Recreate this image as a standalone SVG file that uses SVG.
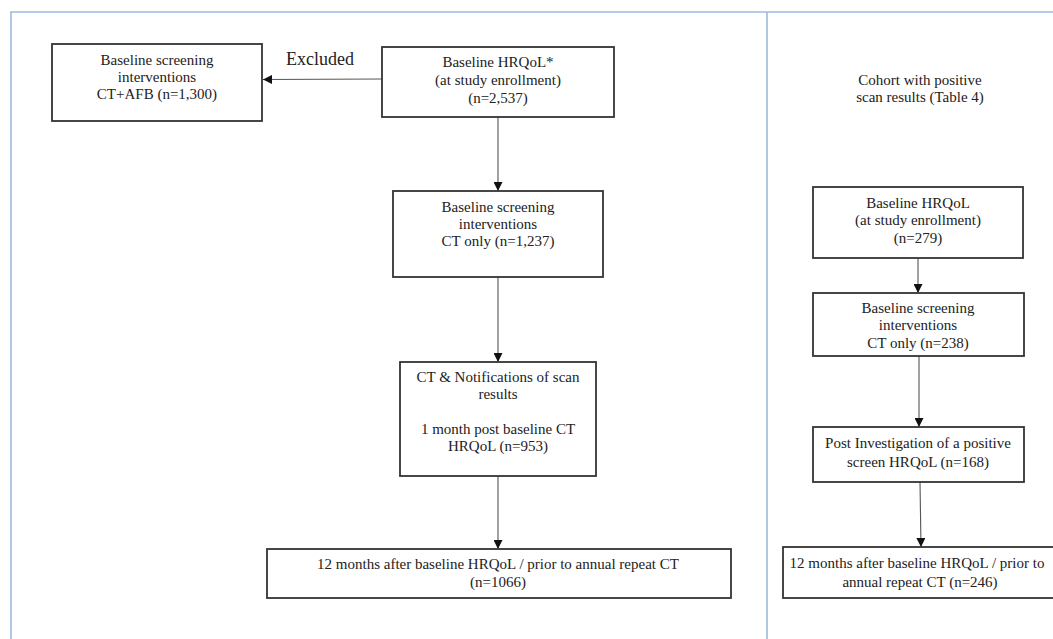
<svg xmlns="http://www.w3.org/2000/svg" width="1053" height="639" viewBox="0 0 1053 639">
<style>
.box{fill:#fff;stroke:#333;stroke-width:1.8}
.t{font-family:"Liberation Serif","Times New Roman",serif;font-size:15px;fill:#222;text-anchor:middle}
.c{stroke:#555;stroke-width:1.1;fill:none;marker-end:url(#ah)}
.frame{stroke:#9dbbe0;stroke-width:1.6;fill:none}
</style>
<defs>
<marker id="ah" markerUnits="userSpaceOnUse" markerWidth="9" markerHeight="9" viewBox="0 0 10 10" refX="10" refY="5" orient="auto">
<path d="M0,0 L10,5 L0,10 z" fill="#111"/>
</marker>
</defs>
<rect width="1053" height="639" fill="#fff"/>
<g id="frame">
<path class="frame" d="M11,639 V12 H1053 M767,12 V639"/>
</g>
<g id="connectors">
<line class="c" x1="382" y1="79" x2="263" y2="79.5"/>
<line class="c" x1="498" y1="117" x2="498" y2="191"/>
<line class="c" x1="498" y1="277" x2="498" y2="362"/>
<line class="c" x1="498" y1="476" x2="498" y2="549"/>
<line class="c" x1="918" y1="258" x2="918" y2="293"/>
<line class="c" x1="919" y1="356" x2="919" y2="427"/>
<line class="c" x1="920" y1="482" x2="921" y2="547"/>
</g>
<g id="label-excluded">
<text class="t" x="320" y="65" style="font-size:18px">Excluded</text>
</g>
<g id="n-excluded">
<rect class="box" x="52" y="44" width="210" height="77"/>
<text class="t" x="157" y="65">Baseline screening</text>
<text class="t" x="157" y="82">interventions</text>
<text class="t" x="157" y="99">CT+AFB (n=1,300)</text>
</g>
<g id="n-baseline">
<rect class="box" x="382" y="47" width="232" height="70"/>
<text class="t" x="498" y="67">Baseline HRQoL*</text>
<text class="t" x="498" y="85">(at study enrollment)</text>
<text class="t" x="498" y="103">(n=2,537)</text>
</g>
<g id="n-ctonly">
<rect class="box" x="393" y="191" width="210" height="86"/>
<text class="t" x="498" y="212">Baseline screening</text>
<text class="t" x="498" y="229">interventions</text>
<text class="t" x="498" y="246">CT only (n=1,237)</text>
</g>
<g id="n-notif">
<rect class="box" x="400" y="362" width="196" height="114"/>
<text class="t" x="498" y="382">CT &amp; Notifications of scan</text>
<text class="t" x="498" y="399">results</text>
<text class="t" x="498" y="434">1 month  post baseline CT</text>
<text class="t" x="498" y="451">HRQoL  (n=953)</text>
</g>
<g id="n-12m">
<rect class="box" x="267" y="549" width="464" height="49"/>
<text class="t" x="498" y="569">12 months  after baseline HRQoL  / prior to annual  repeat CT</text>
<text class="t" x="498" y="587">(n=1066)</text>
</g>
<g id="label-cohort">
<text class="t" x="920" y="85">Cohort with positive</text>
<text class="t" x="920" y="102">scan results (Table 4)</text>
</g>
<g id="p-baseline">
<rect class="box" x="813" y="187" width="210" height="71"/>
<text class="t" x="918" y="208">Baseline HRQoL</text>
<text class="t" x="918" y="225">(at study enrollment)</text>
<text class="t" x="918" y="243">(n=279)</text>
</g>
<g id="p-ctonly">
<rect class="box" x="813" y="293" width="211" height="63"/>
<text class="t" x="918" y="313">Baseline screening</text>
<text class="t" x="918" y="330">interventions</text>
<text class="t" x="918" y="348">CT only (n=238)</text>
</g>
<g id="p-post">
<rect class="box" x="813" y="427" width="211" height="55"/>
<text class="t" x="918" y="448">Post Investigation of a positive</text>
<text class="t" x="918" y="467">screen HRQoL  (n=168)</text>
</g>
<g id="p-12m">
<rect class="box" x="783" y="547" width="280" height="51"/>
<text class="t" x="917" y="568">12 months  after baseline HRQoL  / prior to</text>
<text class="t" x="920" y="587">annual  repeat CT (n=246)</text>
</g>
</svg>
